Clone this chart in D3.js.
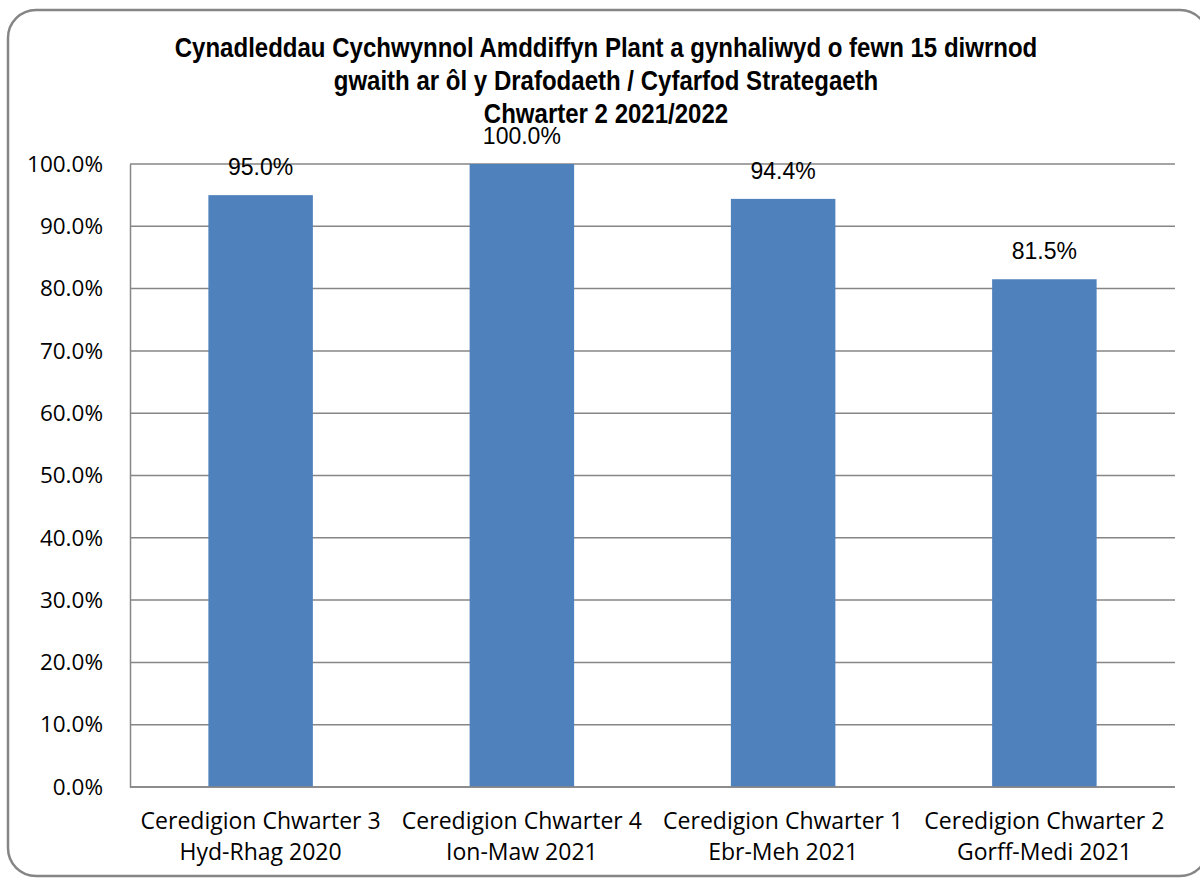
<!DOCTYPE html>
<html>
<head>
<meta charset="utf-8">
<script src="https://cdn.jsdelivr.net/npm/d3@7"></script>
<style>
  body { margin: 0; background: #fff; }
  svg { display: block; }
</style>
</head>
<body>
<div id="container"></div>
<script>
// data
const categories = [
  ["Ceredigion Chwarter 3", "Hyd-Rhag 2020"],
  ["Ceredigion Chwarter 4", "Ion-Maw 2021"],
  ["Ceredigion Chwarter 1", "Ebr-Meh 2021"],
  ["Ceredigion Chwarter 2", "Gorff-Medi 2021"]
];
const values = [95.0, 100.0, 94.4, 81.5];
const yTicks = [0, 10, 20, 30, 40, 50, 60, 70, 80, 90, 100];
const titleLines = [
  "Cynadleddau Cychwynnol Amddiffyn Plant a gynhaliwyd o fewn 15 diwrnod",
  "gwaith ar ôl y Drafodaeth / Cyfarfod Strategaeth",
  "Chwarter 2 2021/2022"
];

const W = 1200, H = 879;
const margin = {top: 164, right: 25, bottom: 92, left: 130};
const width = W - margin.left - margin.right,
      height = H - margin.top - margin.bottom;

const svg = d3.select("#container")
  .append("svg")
    .attr("width", W)
    .attr("height", H);

// outer rounded frame
svg.append("rect")
  .attr("x", 8).attr("y", 10)
  .attr("width", 1200).attr("height", 866)
  .attr("rx", 28).attr("ry", 28)
  .attr("fill", "#fff")
  .attr("stroke", "#858585")
  .attr("stroke-width", 2.5);

// title (condensed bold, like Arial Narrow)
svg.append("g")
  .attr("transform", "translate(606,0) scale(0.89,1)")
  .selectAll("text")
  .data(titleLines)
  .join("text")
    .attr("x", 0)
    .attr("y", (d, i) => 57 + i * 33)
    .attr("text-anchor", "middle")
    .style("font-family", "'Liberation Sans', Arial, sans-serif")
    .style("font-weight", "bold")
    .style("font-size", "27px")
    .attr("fill", "#000")
    .text(d => d);

const g = svg.append("g")
  .attr("transform", `translate(${margin.left}, ${margin.top})`);

const x = d3.scaleBand()
  .domain(d3.range(categories.length))
  .range([0, width])
  .paddingInner(0.6)
  .paddingOuter(0.3);

const y = d3.scaleLinear()
  .domain([0, 100])
  .range([height, 0]);

// gridlines
g.append("g").selectAll("line")
  .data(yTicks)
  .join("line")
    .attr("x1", 0).attr("x2", width)
    .attr("y1", d => y(d)).attr("y2", d => y(d))
    .attr("stroke", "#868686")
    .attr("stroke-width", 1.5);

// y axis
const yAxis = g.append("g")
  .call(d3.axisLeft(y).tickValues(yTicks).tickSize(0).tickPadding(27)
    .tickFormat(d => d.toFixed(1) + "%"));
yAxis.select(".domain").attr("stroke", "#868686").attr("stroke-width", 1.5);
yAxis.selectAll("text")
  .style("font-family", "'Open Sans', sans-serif")
  .style("font-size", "22.5px")
  .attr("fill", "#000");

// bars
g.append("g").selectAll("rect")
  .data(values)
  .join("rect")
    .attr("x", (d, i) => x(i))
    .attr("y", d => y(d))
    .attr("width", x.bandwidth())
    .attr("height", d => height - y(d))
    .attr("fill", "#4F81BD");

// value labels
g.append("g").selectAll("text")
  .data(values)
  .join("text")
    .attr("x", (d, i) => x(i) + x.bandwidth() / 2)
    .attr("y", d => y(d) - 20)
    .attr("text-anchor", "middle")
    .style("font-family", "'Liberation Sans', Arial, sans-serif")
    .style("font-size", "23px")
    .attr("fill", "#000")
    .text(d => d.toFixed(1) + "%");

// x axis line
g.append("line")
  .attr("x1", 0).attr("x2", width)
  .attr("y1", height).attr("y2", height)
  .attr("stroke", "#868686")
  .attr("stroke-width", 1.5);

// category labels
const cat = g.append("g").selectAll("text")
  .data(categories)
  .join("text")
    .attr("x", (d, i) => x(i) + x.bandwidth() / 2)
    .attr("y", height + 42)
    .attr("text-anchor", "middle")
    .style("font-family", "'Open Sans', sans-serif")
    .style("font-size", "23px")
    .attr("fill", "#000");
cat.selectAll("tspan")
  .data(d => d)
  .join("tspan")
    .attr("x", function() { return this.parentNode.getAttribute("x"); })
    .attr("dy", (d, i) => i === 0 ? 0 : 31)
    .text(d => d);
</script>
</body>
</html>
